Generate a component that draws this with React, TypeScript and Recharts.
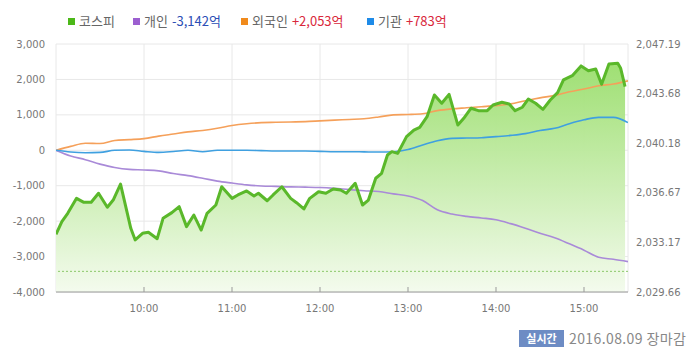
import {
  Area,
  CartesianGrid,
  ComposedChart,
  Line,
  ReferenceLine,
  XAxis,
  YAxis,
} from 'recharts';

// 코스피 지수 (분 단위, 09:00 기준 경과 분)
const kospiMinutes = [
  0, 4, 8, 14, 19, 24, 29, 35, 39, 44, 51, 54, 59, 63, 69, 73, 79, 84, 89, 94,
  99, 103, 109, 113, 120, 124, 130, 135, 138, 144, 148, 154, 160, 164, 169, 173, 179, 184, 189, 194,
  198, 204, 209, 213, 218, 222, 226, 229, 233, 239, 244, 248, 253, 258, 263, 268, 274, 278, 283, 288,
  294, 298, 304, 309, 313, 318, 322, 327, 332, 337, 342, 346, 352, 358, 363, 368, 372, 377, 383, 385,
  388,
];
const kospiValues = [
  2033.74, 2034.63, 2035.22, 2036.28, 2036.0, 2036.0, 2036.64, 2035.65, 2036.16, 2037.29,
  2034.16, 2033.34, 2033.81, 2033.88, 2033.43, 2034.87, 2035.27, 2035.69, 2034.28, 2035.1,
  2034.04, 2035.22, 2035.81, 2037.1, 2036.28, 2036.52, 2036.8, 2036.45, 2036.64, 2036.11,
  2036.52, 2037.1, 2036.28, 2035.97, 2035.53, 2036.28, 2036.75, 2036.64, 2036.94, 2036.87,
  2036.64, 2037.34, 2035.81, 2036.16, 2037.7, 2038.05, 2039.34, 2039.58, 2039.46, 2040.64,
  2041.11, 2041.3, 2042.05, 2043.59, 2043.0, 2043.63, 2041.46, 2041.94, 2042.65, 2042.48,
  2042.48, 2042.88, 2043.07, 2042.95, 2042.48, 2042.72, 2043.3, 2043.0, 2042.57, 2043.23,
  2043.75, 2044.65, 2044.95, 2045.64, 2045.3, 2045.42, 2044.34, 2045.78, 2045.83, 2045.47,
  2044.17,
];
const prevClose = 2031.12;

// 투자자별 순매수 (억원, 10분 간격)
const flowMinutes = [
  0, 10, 20, 30, 40, 50, 60, 70, 80, 90, 100, 110, 120, 130, 140, 150, 160, 170, 180, 190,
  200, 210, 220, 230, 240, 250, 260, 270, 280, 290, 300, 310, 320, 330, 340, 350, 360, 370, 380, 390,
];
const individual = [
  0, -160, -265, -390, -487, -540, -555, -580, -657, -715, -790, -870, -925, -975, -1006, -1020, -1034, -1040, -1050, -1075,
  -1110, -1140, -1165, -1230, -1290, -1420, -1680, -1800, -1865, -1910, -1960, -2070, -2200, -2340, -2470, -2640, -2820, -3020, -3076, -3142,
];
const foreign = [
  0, 110, 200, 190, 275, 300, 330, 400, 460, 520, 560, 620, 700, 750, 780, 790, 800, 810, 830, 850,
  870, 890, 940, 1000, 1010, 1030, 1120, 1170, 1200, 1230, 1260, 1310, 1400, 1480, 1550, 1650, 1730, 1820, 1870, 1960,
];
const institution = [
  0, -50, -70, -60, 0, 10, -30, -60, -35, 0, -40, 0, 0, 0, -10, -20, -20, -20, -30, -40,
  -40, -45, -50, -40, 20, 150, 270, 335, 345, 355, 385, 420, 470, 560, 620, 750, 860, 930, 930, 783,
];

const hourTicks = [60, 120, 180, 240, 300, 360];
const hourLabels = ['10:00', '11:00', '12:00', '13:00', '14:00', '15:00'];
const flowTicks = [-4000, -3000, -2000, -1000, 0, 1000, 2000, 3000];
const kospiTicks = [2029.66, 2033.17, 2036.67, 2040.18, 2043.68, 2047.19];

const kospiData = kospiMinutes.map((t, i) => ({ t, kospi: kospiValues[i] }));
const flowData = flowMinutes.map((t, i) => ({
  t,
  individual: individual[i],
  foreign: foreign[i],
  institution: institution[i],
}));

const tickStyle = { fontSize: 10, fill: '#777', fontFamily: 'DejaVu Sans' };

const legend = [
  { name: '코스피', color: '#4cb818', value: '', valueColor: '', left: 68 },
  { name: '개인', color: '#9c5fd0', value: '-3,142억', valueColor: '#2b4eb5', left: 133 },
  { name: '외국인', color: '#f08a1c', value: '+2,053억', valueColor: '#d9283c', left: 241 },
  { name: '기관', color: '#1e8be8', value: '+783억', valueColor: '#d9283c', left: 367 },
];

export default function App() {
  return (
    <div
      style={{
        position: 'absolute',
        left: 0,
        top: 0,
        width: 700,
        height: 360,
        background: '#fff',
        fontFamily: '"Noto Sans CJK KR", "Noto Sans", sans-serif',
      }}
    >
      {legend.map((l) => (
        <div
          key={l.name}
          style={{
            position: 'absolute',
            left: l.left,
            top: 12,
            display: 'flex',
            alignItems: 'center',
            fontSize: 13,
            lineHeight: '18px',
            whiteSpace: 'nowrap',
          }}
        >
          <span style={{ width: 7, height: 7, background: l.color, marginRight: 4 }} />
          <span style={{ color: '#666' }}>{l.name}</span>
          {l.value && <span style={{ color: l.valueColor, marginLeft: 4 }}>{l.value}</span>}
        </div>
      ))}

      <ComposedChart width={700} height={330} margin={{ top: 44, right: 0, bottom: 8, left: 0 }}>
        <defs>
          <linearGradient id="kospiFill" x1="0" y1="0" x2="0" y2="1">
            <stop offset="0%" stopColor="#9ade6c" stopOpacity={0.95} />
            <stop offset="100%" stopColor="#f4fbee" stopOpacity={1} />
          </linearGradient>
        </defs>
        <CartesianGrid stroke="#e8e8e8" yAxisId="flow" />
        <XAxis
          dataKey="t"
          type="number"
          domain={[0, 390]}
          ticks={hourTicks}
          tickFormatter={(v: number) => hourLabels[hourTicks.indexOf(v)]}
          allowDataOverflow
          height={30}
          stroke="#999"
          tickSize={-5}
          tickMargin={18}
          tick={tickStyle}
        />
        <YAxis
          yAxisId="flow"
          domain={[-4000, 3000]}
          ticks={flowTicks}
          tickFormatter={(v: number) => v.toLocaleString('en-US')}
          width={56}
          axisLine={false}
          tickLine={false}
          tickMargin={5}
          tick={tickStyle}
        />
        <YAxis
          yAxisId="kospi"
          orientation="right"
          domain={[2029.66, 2047.19]}
          ticks={kospiTicks}
          tickFormatter={(v: number) =>
            v.toLocaleString('en-US', { minimumFractionDigits: 2, maximumFractionDigits: 2 })
          }
          allowDataOverflow
          width={72}
          axisLine={false}
          tickLine={false}
          tick={tickStyle}
        />
        <Area
          yAxisId="kospi"
          data={kospiData}
          dataKey="kospi"
          type="linear"
          stroke="none"
          fill="url(#kospiFill)"
          fillOpacity={1}
          baseValue="dataMin"
          isAnimationActive={false}
        />
        <ReferenceLine yAxisId="kospi" y={prevClose} stroke="#8cc86a" strokeDasharray="2 2" />
        <Line
          yAxisId="flow"
          data={flowData}
          dataKey="individual"
          type="monotone"
          stroke="#a98ad8"
          strokeWidth={1.6}
          dot={false}
          isAnimationActive={false}
        />
        <Line
          yAxisId="flow"
          data={flowData}
          dataKey="foreign"
          type="monotone"
          stroke="#f5a05a"
          strokeWidth={1.6}
          dot={false}
          isAnimationActive={false}
        />
        <Line
          yAxisId="flow"
          data={flowData}
          dataKey="institution"
          type="monotone"
          stroke="#3fa0e0"
          strokeWidth={1.6}
          dot={false}
          isAnimationActive={false}
        />
        <Line
          yAxisId="kospi"
          data={kospiData}
          dataKey="kospi"
          type="linear"
          stroke="#5ab82a"
          strokeWidth={3}
          strokeLinejoin="round"
          dot={false}
          isAnimationActive={false}
        />
      </ComposedChart>

      <div
        style={{
          position: 'absolute',
          left: 519,
          top: 330,
          width: 45,
          height: 17,
          background: '#6d8cc4',
          color: '#fff',
          fontSize: 11,
          fontWeight: 700,
          lineHeight: '17px',
          textAlign: 'center',
        }}
      >
        실시간
      </div>
      <div
        style={{
          position: 'absolute',
          left: 569,
          top: 329,
          fontSize: 14,
          letterSpacing: 0.4,
          lineHeight: '19px',
          color: '#888',
          whiteSpace: 'nowrap',
        }}
      >
        2016.08.09 장마감
      </div>
    </div>
  );
}
